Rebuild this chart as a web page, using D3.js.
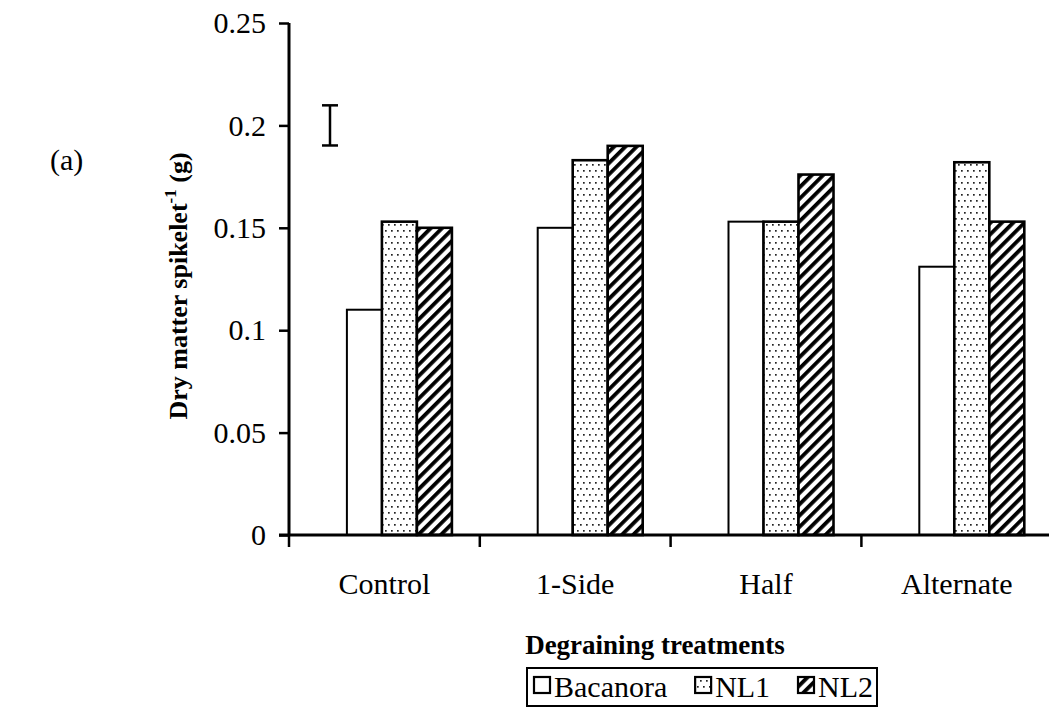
<!DOCTYPE html>
<html>
<head>
<meta charset="utf-8">
<script src="https://cdn.jsdelivr.net/npm/d3@7"></script>
<style>
  html, body { margin: 0; padding: 0; background: #fff; }
  svg { display: block; }
  text { font-family: "Liberation Serif", "Times New Roman", serif; fill: #000; }
</style>
</head>
<body>
<svg id="chart" width="1049" height="721"></svg>
<script>
// Degraining treatments (x categories)
const categories = ["Control", "1-Side", "Half", "Alternate"];
// Cultivars (legend series)
const series = ["Bacanora", "NL1", "NL2"];
// Dry matter per spikelet (g), one value per treatment
const bacanora = [0.110, 0.150, 0.153, 0.131];
const nl1 = [0.153, 0.183, 0.153, 0.182];
const nl2 = [0.150, 0.190, 0.176, 0.153];
// Y axis ticks
const yTicks = [0, 0.05, 0.1, 0.15, 0.2, 0.25];
// LSD error bar (centre and half-length)
const lsdCentre = 0.2;
const lsdHalf = 0.0098;

const values = { "Bacanora": bacanora, "NL1": nl1, "NL2": nl2 };

const svg = d3.select("#chart");
const FONT = 30;

// fill patterns
const defs = svg.append("defs");
const dots = defs.append("pattern").attr("id", "dots")
  .attr("patternUnits", "userSpaceOnUse").attr("width", 6).attr("height", 12);
dots.append("rect").attr("width", 6).attr("height", 12).attr("fill", "#fff");
dots.append("rect").attr("x", 1).attr("y", 2).attr("width", 1.7).attr("height", 1.7).attr("fill", "#222");
dots.append("rect").attr("x", 4).attr("y", 8).attr("width", 1.7).attr("height", 1.7).attr("fill", "#222");

const hatch = defs.append("pattern").attr("id", "hatch")
  .attr("patternUnits", "userSpaceOnUse").attr("width", 8).attr("height", 8)
  .attr("patternTransform", "rotate(45)");
hatch.append("rect").attr("width", 8).attr("height", 8).attr("fill", "#fff");
hatch.append("rect").attr("x", 0).attr("y", 0).attr("width", 3.8).attr("height", 8).attr("fill", "#000");

const fills = { "Bacanora": "#fff", "NL1": "url(#dots)", "NL2": "url(#hatch)" };

// scales
const x0 = 289, plotTop = 23, plotBottom = 535;
const catW = 190.8;
const x = d3.scaleBand().domain(categories).range([x0, x0 + catW * categories.length]).padding(0);
const y = d3.scaleLinear().domain([0, 0.25]).range([plotBottom, plotTop]);
const groupW = 105;
const groupShift = 15;
const xs = d3.scaleBand().domain(series).range([0, groupW]).padding(0);

// bars
const g = svg.append("g");
categories.forEach((c, i) => {
  const gx = x(c) + (x.bandwidth() - groupW) / 2 + groupShift;
  series.forEach(s => {
    const v = values[s][i];
    g.append("rect")
      .attr("x", gx + xs(s))
      .attr("y", y(v))
      .attr("width", xs.bandwidth())
      .attr("height", y(0) - y(v))
      .attr("fill", fills[s])
      .attr("stroke", "#000")
      .attr("stroke-width", s === "Bacanora" ? 2 : 2.6);
  });
});

// y axis
const yAxis = d3.axisLeft(y).tickValues(yTicks).tickSize(10).tickPadding(13)
  .tickFormat(d => d3.format("")(+d.toFixed(2)));
const ya = svg.append("g").attr("transform", `translate(${x0},0)`).call(yAxis);
ya.select(".domain").attr("stroke", "#000").attr("stroke-width", 3)
  .attr("d", `M0,${plotTop}V${plotBottom}`);
ya.selectAll(".tick line").attr("stroke", "#000").attr("stroke-width", 2.5);
ya.selectAll(".tick text").style("font-size", FONT + "px")
  .style("font-family", "Liberation Serif, serif").attr("fill", "#000");

// x axis
const xAxis = d3.axisBottom(x).tickSize(0).tickPadding(38);
const xa = svg.append("g").attr("transform", `translate(0,${plotBottom})`).call(xAxis);
xa.select(".domain").attr("stroke", "#000").attr("stroke-width", 3)
  .attr("d", `M${x0 - 10},0H1049`);
xa.selectAll(".tick text").style("font-size", FONT + "px")
  .style("font-family", "Liberation Serif, serif").attr("fill", "#000");
// boundary ticks between categories
const bounds = categories.map(c => x(c)).concat([x(categories[categories.length - 1]) + x.bandwidth()]);
xa.selectAll(".bound").data(bounds).join("line").attr("class", "bound")
  .attr("x1", d => d).attr("x2", d => d).attr("y1", 0).attr("y2", 12)
  .attr("stroke", "#000").attr("stroke-width", 2.5);

// LSD bar
const ex = x("Control") + 41;
const eg = svg.append("g").attr("stroke", "#000").attr("stroke-width", 2.5);
eg.append("line").attr("x1", ex).attr("x2", ex).attr("y1", y(lsdCentre + lsdHalf)).attr("y2", y(lsdCentre - lsdHalf));
eg.append("line").attr("x1", ex - 8).attr("x2", ex + 8).attr("y1", y(lsdCentre + lsdHalf)).attr("y2", y(lsdCentre + lsdHalf));
eg.append("line").attr("x1", ex - 8).attr("x2", ex + 8).attr("y1", y(lsdCentre - lsdHalf)).attr("y2", y(lsdCentre - lsdHalf));

// panel label
svg.append("text").attr("x", 50).attr("y", 170).style("font-size", FONT + "px").text("(a)");

// axis titles
const yt = svg.append("text")
  .attr("transform", `translate(187,286) rotate(-90)`)
  .attr("text-anchor", "middle")
  .style("font-size", "26px").style("font-weight", "bold");
yt.append("tspan").text("Dry matter spikelet");
yt.append("tspan").attr("dy", -11).style("font-size", "17px").text("-1");
yt.append("tspan").attr("dy", 11).text(" (g)");

svg.append("text").attr("x", 655).attr("y", 654).attr("text-anchor", "middle")
  .style("font-size", "27px").style("font-weight", "bold").text("Degraining treatments");

// legend: items spread across a fixed box
const lg = svg.append("g");
const legLeft = 527, legRight = 877, legTop = 668, legBottom = 706;
const legY = 697, box = 16, iconGap = 4;
const items = series.map(s => {
  const t = lg.append("text").style("font-size", FONT + "px").text(s);
  return { s, t, w: t.node().getComputedTextLength() };
});
const used = items.reduce((a, d) => a + box + iconGap + d.w, 0);
const padL = 7, padR = 4;
const gap = (legRight - legLeft - padL - padR - used) / (items.length - 1);
lg.insert("rect", ":first-child").attr("x", legLeft).attr("y", legTop)
  .attr("width", legRight - legLeft).attr("height", legBottom - legTop)
  .attr("fill", "#fff").attr("stroke", "#000").attr("stroke-width", 2);
let cx = legLeft + padL;
items.forEach(d => {
  lg.append("rect").attr("x", cx).attr("y", legY - 20).attr("width", box).attr("height", box)
    .attr("fill", fills[d.s]).attr("stroke", "#000").attr("stroke-width", 2.2);
  d.t.attr("x", cx + box + iconGap).attr("y", legY);
  cx += box + iconGap + d.w + gap;
});
</script>
</body>
</html>
